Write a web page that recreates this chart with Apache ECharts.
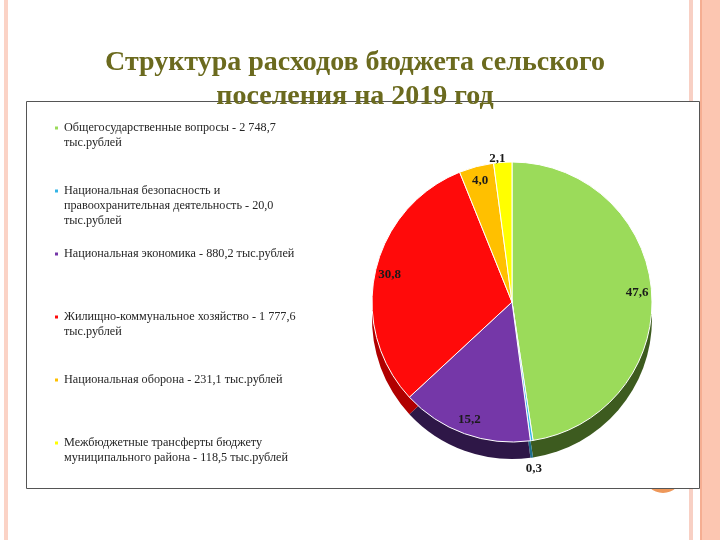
<!DOCTYPE html>
<html>
<head>
<meta charset="utf-8">
<script src="https://cdn.jsdelivr.net/npm/echarts@6/dist/echarts.min.js"></script>
<style>
  html, body { margin: 0; padding: 0; background: #fff; }
  #chart { width: 720px; height: 540px; }
</style>
</head>
<body>
<div id="chart"></div>
<script>
// статьи расходов, по часовой стрелке от верха
const categories = [
  "Общегосударственные вопросы",
  "Национальная безопасность и\nправоохранительная деятельность",
  "Национальная экономика",
  "Жилищно-коммунальное хозяйство",
  "Национальная оборона",
  "Межбюджетные трансферты бюджету\nмуниципального района"
];
// тыс. рублей
const amounts = [2748.7, 20.0, 880.2, 1777.6, 231.1, 118.5];
// доля в расходах, %
const shares = [47.6, 0.3, 15.2, 30.8, 4.0, 2.1];
const unitOnNewLine = [true, true, false, true, false, false];

const topColors = ["#9bdb5a", "#33b4e6", "#7537a8", "#ff0a0a", "#ffc000", "#ffff00"];
const sideColors = ["#3d5b1f", "#1d6f8c", "#2e1747", "#b00000", "#b08400", "#b0b000"];
const outsideLen = [0, 28, 0, 0, 0, 4];
const outsideShift = [0, -10, 0, 0, 0, -3];

const serif = "'Liberation Serif', 'DejaVu Serif', serif";
const center = [512, 302];
const R = 140;
const LH = 15;         // высота строки легенды
const LEGEND_Y0 = 123; // значок первого пункта
const LEGEND_STEP = 63;

function fmtNum(v, d) {
  let s = v.toFixed(d).split(".");
  s[0] = s[0].replace(/\B(?=(\d{3})+(?!\d))/g, " ");
  return s.join(",");
}
function legendLines(name) {
  let i = categories.indexOf(name);
  return (name + " - " + fmtNum(amounts[i], 1) + (unitOnNewLine[i] ? "\n" : " ") + "тыс.рублей").split("\n");
}
// пустые строки сверху, чтобы значок стоял у первой строки
function legendText(name) {
  let lines = legendLines(name);
  return "\n".repeat(lines.length - 1) + lines.join("\n");
}

let chart = echarts.init(document.getElementById("chart"));
const option = {
  animation: false,
  title: {
    text: "Структура расходов бюджета сельского\nпоселения на 2019 год",
    left: 350,
    top: 41,
    textAlign: "center",
    textStyle: {
      fontFamily: serif,
      fontWeight: "bold",
      fontSize: 28,
      lineHeight: 34,
      color: "#6b6a1e"
    },
    z: 6
  },
  legend: categories.map((c, i) => {
    let n = legendLines(c).length;
    return {
      orient: "vertical",
      left: 48,
      top: LEGEND_Y0 + i * LEGEND_STEP - ((2 * n - 1) * LH) / 2,
      itemWidth: 5,
      itemHeight: 5,
      icon: "rect",
      selectedMode: false,
      formatter: legendText,
      textStyle: {
        fontFamily: serif,
        fontSize: 12.2,
        lineHeight: LH,
        color: "#262626"
      },
      data: [c]
    };
  }),
  graphic: [
    { type: "rect", z: 0, shape: { x: 4, y: 0, width: 4, height: 540 }, style: { fill: "#fbd3c6" } },
    { type: "rect", z: 0, shape: { x: 689, y: 0, width: 4, height: 540 }, style: { fill: "#f8d0c4" } },
    { type: "rect", z: 0, shape: { x: 700, y: 0, width: 20, height: 540 }, style: { fill: "#fcc6b1" } },
    { type: "rect", z: 0, shape: { x: 700, y: 0, width: 2, height: 540 }, style: { fill: "#f5ae92" } },
    { type: "circle", z: 0, shape: { cx: 663, cy: 474, r: 19 }, style: { fill: "#ee985a" } },
    {
      type: "rect", z: 1,
      shape: { x: 26.5, y: 101.5, width: 673, height: 387 },
      style: { fill: "#fff", stroke: "#555", lineWidth: 1 }
    }
  ],
  series: [
    {
      // верхняя поверхность
      type: "pie",
      z: 3,
      center: center,
      radius: R,
      startAngle: 90,
      clockwise: true,
      silent: true,
      avoidLabelOverlap: false,
      itemStyle: { borderColor: "#fff", borderWidth: 1 },
      labelLine: { show: false, length2: 0 },
      data: categories.map((c, i) => ({
        name: c,
        value: shares[i],
        itemStyle: { color: topColors[i] },
        label: {
          show: shares[i] < 3,
          position: "outside",
          distanceToLabelLine: outsideShift[i],
          formatter: fmtNum(shares[i], 1),
          fontFamily: serif,
          fontWeight: "bold",
          fontSize: 13,
          color: "#1a1a1a"
        },
        labelLine: { show: false, length: outsideLen[i], length2: 0 }
      }))
    },
    {
      // боковая грань
      type: "pie",
      z: 2,
      center: [center[0], center[1] + 17],
      radius: R,
      startAngle: 90,
      clockwise: true,
      silent: true,
      label: { show: false },
      labelLine: { show: false },
      data: categories.map((c, i) => ({ name: c, value: shares[i], itemStyle: { color: sideColors[i] } }))
    },
    {
      // подписи внутри секторов
      type: "pie",
      z: 4,
      center: center,
      radius: [105, R],
      startAngle: 90,
      clockwise: true,
      silent: true,
      itemStyle: { color: "rgba(0,0,0,0)" },
      labelLine: { show: false },
      label: {
        position: "inside",
        rotate: 0,
        fontFamily: serif,
        fontWeight: "bold",
        fontSize: 13,
        color: "#1a1a1a",
        formatter: (p) => fmtNum(shares[p.dataIndex], 1)
      },
      data: categories.map((c, i) => ({ name: c, value: shares[i], label: { show: shares[i] >= 3 } }))
    }
  ]
};
chart.setOption(option);
</script>
</body>
</html>
